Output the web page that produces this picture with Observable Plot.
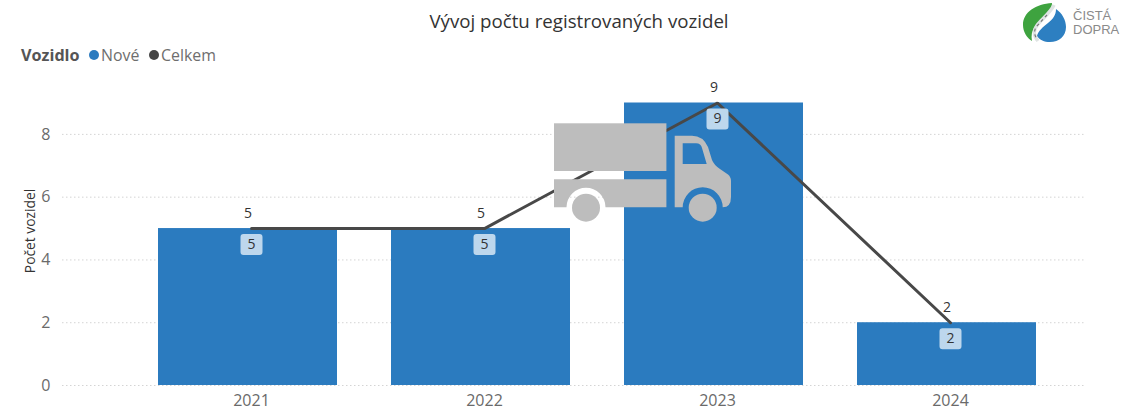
<!DOCTYPE html>
<html lang="cs">
<head>
<meta charset="utf-8">
<script src="https://cdn.jsdelivr.net/npm/d3@7"></script>
<script src="https://cdn.jsdelivr.net/npm/@observablehq/plot@0.6"></script>
<style>
  html, body { margin: 0; padding: 0; background: #fff; width: 1122px; height: 411px; overflow: hidden; }
  body { position: relative; font-family: "Open Sans", "Noto Sans", sans-serif; }
  #title { position: absolute; left: 0; top: 8px; width: 1158px; text-align: center; font-size: 18.7px; line-height: 26px; color: #333; white-space: nowrap; }
  #legend { position: absolute; left: 21px; top: 45px; height: 20px; line-height: 20px; font-size: 15.9px; color: #6e6e6e; white-space: nowrap; }
  #legend b { color: #555; font-weight: 700; font-size: 16.2px; position: absolute; left: 0; top: 0; }
  #legend i { position: absolute; top: 5px; width: 10px; height: 10px; border-radius: 50%; }
  #legend span { position: absolute; top: 0; }
  #chart { position: absolute; left: 0; top: 70px; }
  #overlay { position: absolute; left: 0; top: 0; pointer-events: none; }
  #logoText { position: absolute; left: 1073px; top: 9px; font-size: 13px; line-height: 13.5px; color: #8a8a8a; font-family: "Liberation Sans", sans-serif; }
  #ylabel { position: absolute; left: 29px; top: 231px; transform: translate(-50%, -50%) rotate(-90deg); font-size: 13.8px; color: #333; white-space: nowrap; }
</style>
</head>
<body>
<div id="title">Vývoj počtu registrovaných vozidel</div>
<div id="legend"><b>Vozidlo</b><i style="left:68px;background:#2b7bbf"></i><span style="left:80px">Nové</span><i style="left:128px;background:#444"></i><span style="left:140px">Celkem</span></div>
<div id="ylabel">Počet vozidel</div>
<div id="chart"></div>
<svg id="overlay" width="1122" height="411" viewBox="0 0 1122 411" aria-hidden="true">
  <g fill="#bdbdbd">
    <rect x="554" y="123.3" width="112.4" height="47.7"/>
    <path d="M554 179.3H666.4V207.3H605.5A19.5 19.5 0 0 0 566.5 207.3H554Z"/>
    <circle cx="586" cy="207.7" r="14"/>
    <path fill-rule="evenodd" d="M674.7 135.7H692Q703 135.7 708 147L712 160Q714 165 720 169L728 174.5Q731 177 731 181V197Q731 207.3 722.7 207.3A20 20 0 0 0 682.7 207.3H674.7ZM682.7 143.3V164H706.7L702 148Q701 143.3 696 143.3Z"/>
    <circle cx="702.7" cy="207.7" r="14"/>
  </g>
  <path d="M1052 3C1036 4 1023 12 1023 25C1023 32 1027 38 1032 41C1030 30 1036 24 1044 17C1049 12 1052 8 1052 3Z" fill="#3ea33f"/>
  <path d="M1056 9C1062 13 1066 20 1066 27C1066 36 1059 42 1050 42C1044 42 1040 40 1037 36C1038 31 1043 27 1048 23C1053 19 1056 15 1056 9Z" fill="#2d7fc1"/>
  <path d="M1054 5C1050 13 1043 18 1038 24C1033 30 1033 35 1038 41" fill="none" stroke="#dfe3e3" stroke-width="3.5"/>
  <path d="M1047 15L1036 27C1034 31 1034 35 1037 39" fill="none" stroke="#777" stroke-width="1.2" stroke-dasharray="3 3"/>
</svg>
<div id="logoText">ČISTÁ<br>DOPRA</div>
<script>
const years = ["2021", "2022", "2023", "2024"];
const nove = [5, 5, 9, 2];
const celkem = [5, 5, 9, 2];
const yTicks = [0, 2, 4, 6, 8];

const barRows = years.map((year, i) => ({year, value: nove[i]}));
const lineRows = years.map((year, i) => ({year, value: celkem[i]}));

const roundedBox = {
  draw(context) {
    const w = 11, h = 10.5, r = 3;
    context.moveTo(-w + r, -h);
    context.arcTo(w, -h, w, h, r);
    context.arcTo(w, h, -w, h, r);
    context.arcTo(-w, h, -w, -h, r);
    context.arcTo(-w, -h, w, -h, r);
    context.closePath();
  }
};

const plot = Plot.plot({
  width: 1122,
  height: 341,
  marginLeft: 62,
  marginRight: 38,
  marginTop: 32.5,
  marginBottom: 26,
  style: {fontFamily: "'Open Sans', 'Noto Sans', sans-serif", background: "transparent"},
  x: {domain: years, range: [129.4, 1064.4], paddingInner: 0.233, paddingOuter: 0.1165, label: null},
  y: {domain: [0, 9], label: null},
  marks: [
    Plot.ruleY(yTicks, {stroke: "#d4d4d4", strokeDasharray: "1.5 2.5", strokeWidth: 1}),
    Plot.barY(barRows, {x: "year", y: "value", fill: "#2b7bbf"}),
    Plot.line(lineRows, {x: "year", y: "value", dx: 3.5, stroke: "#484848", strokeWidth: 3, strokeLinejoin: "miter"}),
    Plot.dot(barRows, {x: "year", y: "value", dx: 3.5, dy: 16, symbol: roundedBox, fill: "#bdd7ed", stroke: null}),
    Plot.text(barRows, {x: "year", y: "value", text: d => String(d.value), dx: 3.5, dy: 16, fontSize: 14, fill: "#333"}),
    Plot.text(lineRows, {x: "year", y: "value", text: d => String(d.value), dy: -15.5, fontSize: 14, fill: "#333", stroke: "white", strokeWidth: 3, strokeOpacity: 0.75}),
    Plot.axisX({tickSize: 0, tickPadding: 9, dx: 3.5, fontSize: 16, color: "#6a6a6a", label: null}),
    Plot.axisY({ticks: yTicks, tickSize: 0, tickPadding: 12, fontSize: 16, color: "#6a6a6a", label: null})
  ]
});
document.getElementById("chart").appendChild(plot);
</script>
</body>
</html>
